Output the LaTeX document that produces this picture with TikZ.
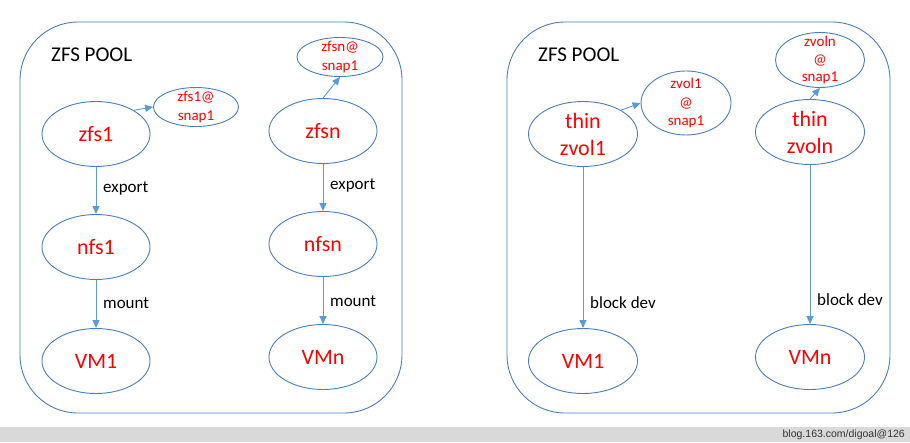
\documentclass[tikz,border=0pt]{standalone}
\usepackage{fontspec}
\setmainfont{Carlito}
\newfontfamily\wmfont{Liberation Sans}
\usetikzlibrary{shapes.geometric,arrows.meta}
\definecolor{outl}{HTML}{4A7EBB}
\definecolor{arr}{HTML}{5B9BD5}
\definecolor{txtred}{HTML}{FF0000}
\definecolor{barg}{HTML}{D9D9D9}
\tikzset{
  pool/.style={draw=outl, line width=0.9pt, rounded corners=58pt},
  ell/.style={ellipse, draw=outl, line width=0.9pt, inner sep=0pt},
  bigtxt/.style={text=txtred, align=center, inner sep=0pt, font=\fontsize{22}{27}\selectfont},
  snaptxt/.style={text=txtred, align=center, inner sep=0pt, font=\fontsize{15}{18.5}\selectfont},
  bignode/.style={ell, minimum width=108pt, minimum height=65pt},
  conn/.style={draw=arr, line width=0.9pt, -{Triangle[length=8pt,width=7pt]}},
  lbl/.style={anchor=west, inner sep=0pt, font=\fontsize{17}{20}\selectfont},
  pooltitle/.style={anchor=west, inner sep=0pt, font=\fontsize{21}{24}\selectfont}
}
\begin{document}
\begin{tikzpicture}[x=1pt,y=-1pt]
\useasboundingbox (0,0) rectangle (910,442);
\fill[white] (0,0) rectangle (910,442);
% bottom bar
\fill[barg] (0,427) rectangle (910,442);
\node[anchor=east, inner sep=0pt, text=black!80, font=\wmfont\fontsize{10.5}{12}\selectfont] (wm) at (905,435) {blog.163.com/digoal@126};

% left pool
\draw[pool] (20,22) rectangle (402,413);
\node[pooltitle] (t1) at (51,55) {ZFS POOL};
\node[bignode, label={[bigtxt]center:zfs1}] (zfs1) at (96,134) {};
\node[ell, minimum width=85pt, minimum height=39pt, label={[snaptxt]center:zfs1@\\snap1}] (s1) at (196,107) {};
\node[bignode, label={[bigtxt]center:zfsn}] (zfsn) at (323,131) {};
\node[ell, minimum width=86pt, minimum height=39pt, label={[snaptxt]center:zfsn@\\snap1}] (sn) at (340,57) {};
\node[bignode, label={[bigtxt]center:nfs1}] (nfs1) at (96,247) {};
\node[bignode, label={[bigtxt]center:nfsn}] (nfsn) at (323,244) {};
\node[bignode, label={[bigtxt]center:VM1}] (vm1) at (96,361) {};
\node[bignode, label={[bigtxt]center:VMn}] (vmn) at (323,357) {};
\draw[conn] (zfs1.32) -- (s1.west);
\draw[conn] (zfsn.north) -- (sn.south);
\draw[conn] (zfs1.south) -- (nfs1.north);
\draw[conn] (zfsn.south) -- (nfsn.north);
\draw[conn] (nfs1.south) -- (vm1.north);
\draw[conn] (nfsn.south) -- (vmn.north);
\node[lbl] (e1) at (103,188) {export};
\node[lbl] (e2) at (330,185) {export};
\node[lbl] (m1) at (103,303) {mount};
\node[lbl] (m2) at (330,301) {mount};

% right pool
\draw[pool] (507,22) rectangle (890,413);
\node[pooltitle] (t2) at (538,55) {ZFS POOL};
\node[bignode, minimum width=109pt, label={[bigtxt]center:thin\\zvol1}] (zv1) at (583,134) {};
\node[ell, minimum width=90pt, minimum height=64pt, label={[snaptxt]center:zvol1\\@\\snap1}] (zs1) at (686,103) {};
\node[bignode, minimum width=109pt, label={[bigtxt]center:thin\\zvoln}] (zvn) at (810,132) {};
\node[ell, minimum width=89pt, minimum height=55pt, label={[snaptxt, font=\fontsize{15}{17.5}\selectfont]center:zvoln\\@\\snap1}] (zsn) at (820,60) {};
\node[bignode, minimum width=109pt, label={[bigtxt]center:VM1}] (rv1) at (583,361) {};
\node[bignode, minimum width=109pt, label={[bigtxt]center:VMn}] (rvn) at (810,357) {};
\draw[conn] (zv1.32) -- (zs1.west);
\draw[conn] (zvn.north) -- (zsn.south);
\draw[conn] (zv1.south) -- (rv1.north);
\draw[conn] (zvn.south) -- (rvn.north);
\node[lbl] (b1) at (590,303) {block dev};
\node[lbl] (b2) at (817,300) {block dev};
\end{tikzpicture}
\end{document}
